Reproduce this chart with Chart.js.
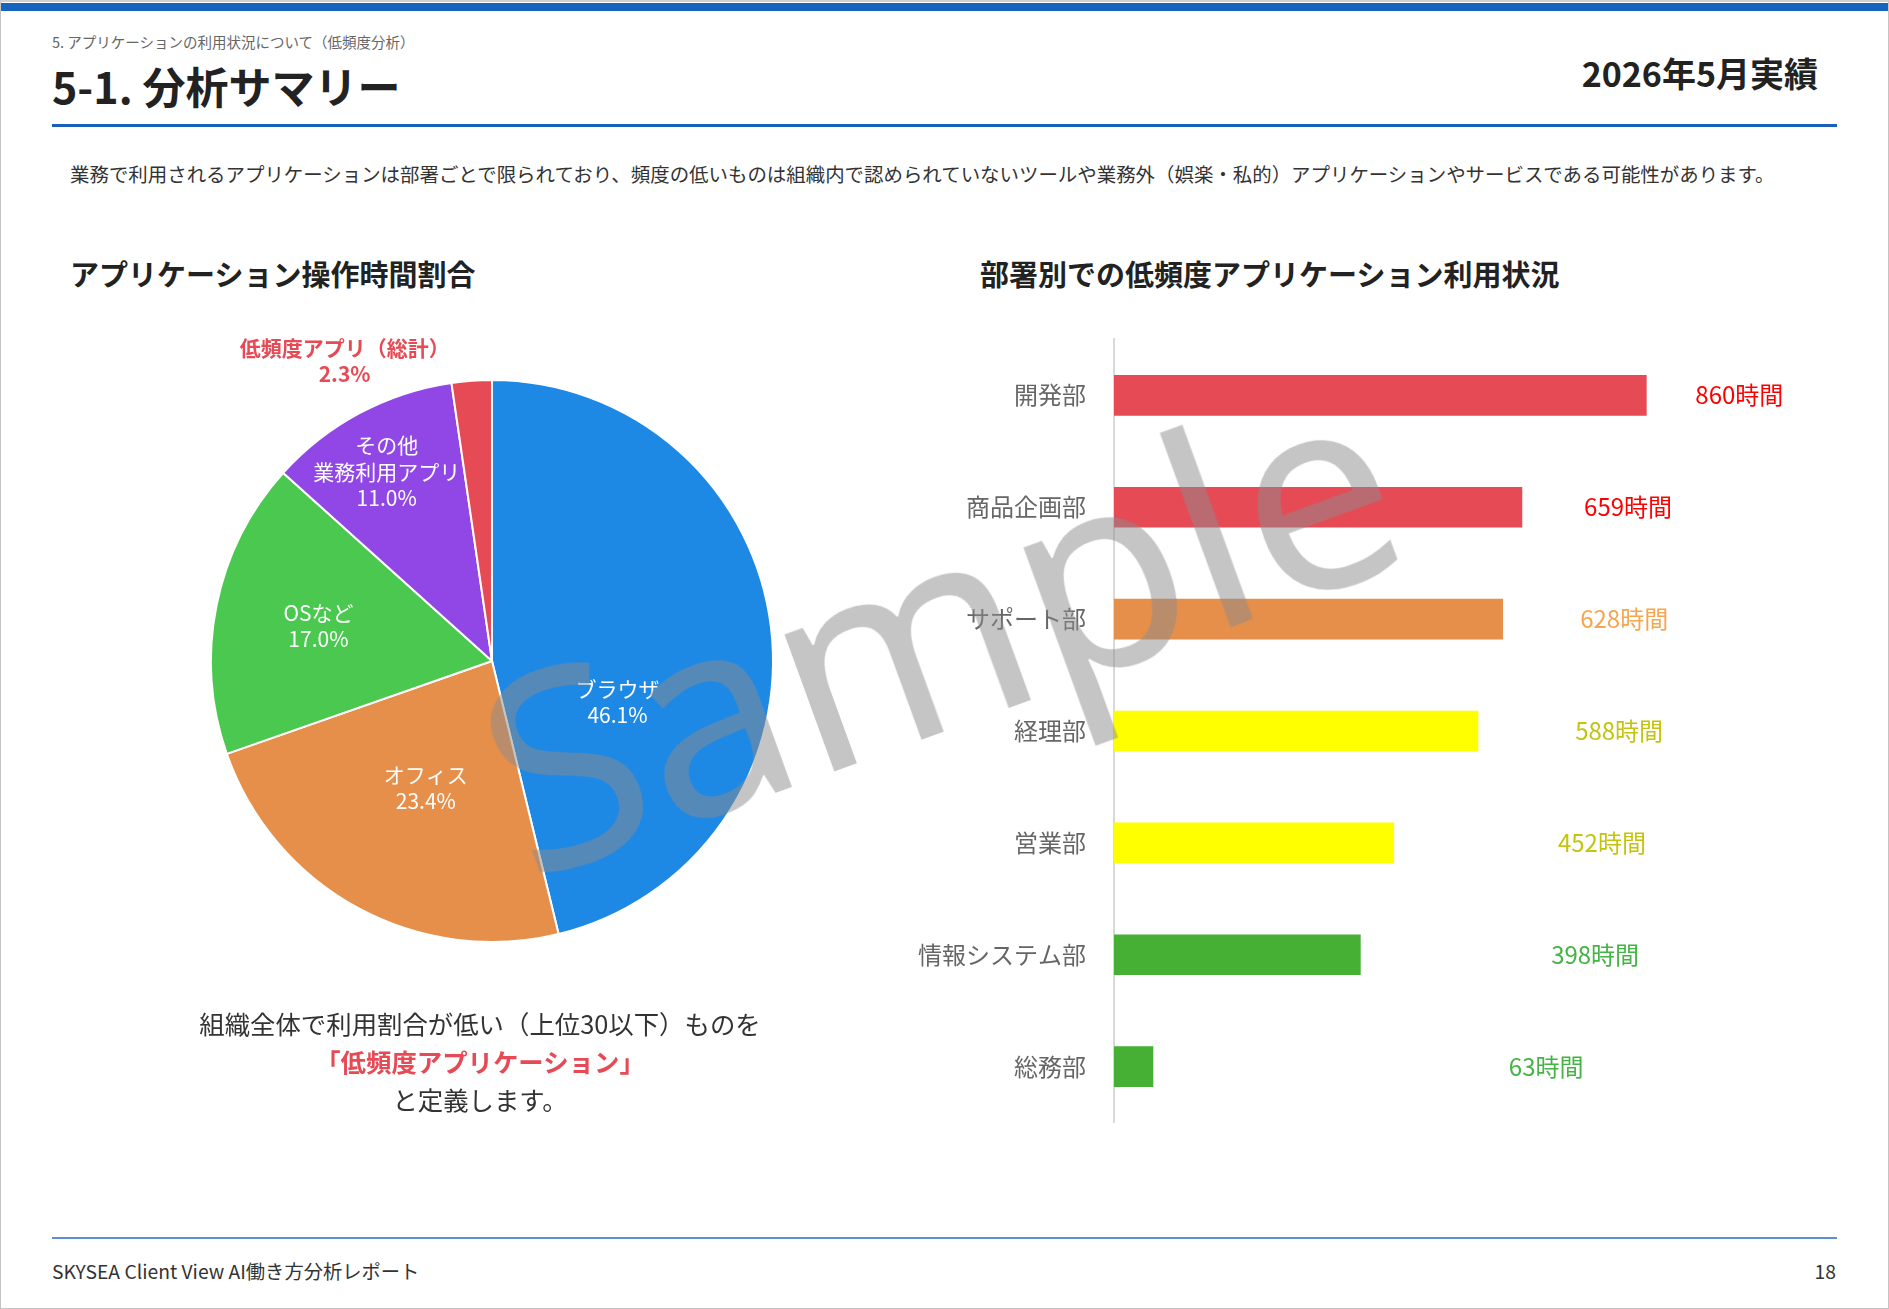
<!DOCTYPE html>
<html lang="ja">
<head>
<meta charset="utf-8">
<title>5-1. 分析サマリー</title>
<script src="https://cdn.jsdelivr.net/npm/chart.js@4.4.0/dist/chart.umd.min.js"></script>
<style>
  html, body { margin: 0; padding: 0; background: #fff; }
  body { font-family: "Noto Sans CJK JP", "Noto Sans", sans-serif; color: #222; }
  .page { position: relative; width: 1889px; height: 1309px; box-sizing: border-box;
          border: 1px solid #c4c4c4; border-top: 2px solid #d0d0d0; overflow: hidden; }
  .topbar { position: absolute; left: 0; right: 0; top: 1px; height: 8px; background: #1565c0; }
  .abs { position: absolute; white-space: nowrap; }
  .crumb { left: 51px; top: 30px; font-size: 14.5px; line-height: 20px; color: #666; }
  .title { left: 51px; top: 58px; font-size: 43px; line-height: 50px; font-weight: 700; color: #222; }
  .month { right: 70px; top: 51px; font-size: 34px; line-height: 40px; font-weight: 700; color: #222; }
  .rule { left: 51px; top: 122px; width: 1785px; height: 3px; background: #1a5fb8; }
  .desc { left: 69px; top: 159px; font-size: 19.45px; line-height: 26px; color: #333; }
  .sec { top: 253px; font-size: 29px; line-height: 36px; font-weight: 700; color: #222; }
  .note { left: 179px; width: 600px; top: 1002px; text-align: center; font-size: 25.4px; line-height: 38px; color: #333; }
  .note b { color: #e64a55; font-weight: 700; }
  .foot-rule { left: 51px; top: 1235px; width: 1785px; height: 2px; background: #5b8fd6; }
  .foot { top: 1256px; font-size: 19.3px; line-height: 26px; color: #333; }
  .box { position: absolute; }
  .stamp { position: absolute; left: 937px; top: 620px; transform: translate(-50%, -50%) rotate(-20deg);
           font-family: "Noto Sans", "Open Sans", sans-serif; font-size: 272px; line-height: 1;
           color: rgba(140, 140, 140, 0.5); pointer-events: none; white-space: nowrap; }
</style>
</head>
<body>
<div class="page">
  <div class="topbar"></div>
  <div class="abs crumb">5. アプリケーションの利用状況について（低頻度分析）</div>
  <div class="abs title">5-1. 分析サマリー</div>
  <div class="abs month">2026年5月実績</div>
  <div class="abs rule"></div>
  <div class="abs desc">業務で利用されるアプリケーションは部署ごとで限られており、頻度の低いものは組織内で認められていないツールや業務外（娯楽・私的）アプリケーションやサービスである可能性があります。</div>

  <div class="abs sec" style="left:69px">アプリケーション操作時間割合</div>
  <div class="abs sec" style="left:979px">部署別での低頻度アプリケーション利用状況</div>

  <div class="box" style="left:141px; top:309px; width:700px; height:700px"><canvas id="pie"></canvas></div>
  <div class="box" style="left:880px; top:295px; width:932px; height:868px"><canvas id="bars"></canvas></div>

  <div class="abs note">組織全体で利用割合が低い（上位30以下）ものを<br><b>「低頻度アプリケーション」</b><br>と定義します。</div>

  <div class="abs foot-rule"></div>
  <div class="abs foot" style="left:51px">SKYSEA Client View AI働き方分析レポート</div>
  <div class="abs foot" style="right:52px">18</div>

  <div class="stamp">Sample</div>
</div>

<script>
// ---- pie: share of application operating time (%)
const appNames = ["ブラウザ", "オフィス", "OSなど", "その他\n業務利用アプリ", "低頻度アプリ（総計）"];
const appShare = [46.1, 23.4, 17.0, 11.0, 2.3];
const appColors = ["#1e88e5", "#e68f4a", "#4ac84f", "#9147e6", "#e64a55"];

// ---- bars: low-frequency app hours by department
const depts = ["開発部", "商品企画部", "サポート部", "経理部", "営業部", "情報システム部", "総務部"];
const deptHours = [860, 659, 628, 588, 452, 398, 63];
const deptColors = ["#e64a55", "#e64a55", "#e68f4a", "#ffff00", "#ffff00", "#46b035", "#46b035"];
const hourColors = ["#ff0000", "#ff0000", "#f8a54e", "#c4c40e", "#c4c40e", "#44b444", "#44b444"];

Chart.defaults.font.family = "'Noto Sans CJK JP', 'Noto Sans', sans-serif";
Chart.defaults.animation = false;

// labels inside/outside each slice: [fraction of radius, angle shift in degrees]
const sliceLabels = {
  id: "sliceLabels",
  afterDatasetsDraw(chart, args, opts) {
    const { ctx } = chart;
    const arcs = chart.getDatasetMeta(0).data;
    ctx.save();
    ctx.textAlign = "center";
    ctx.textBaseline = "middle";
    arcs.forEach((arc, i) => {
      const [f, shift] = opts.place[i];
      const mid = (arc.startAngle + arc.endAngle) / 2 + shift * Math.PI / 180;
      const cx = arc.x + Math.cos(mid) * arc.outerRadius * f;
      const cy = arc.y + Math.sin(mid) * arc.outerRadius * f;
      const outside = f > 1;
      const lines = appNames[i].split("\n").concat(appShare[i].toFixed(1) + "%");
      ctx.font = (outside ? "700 " : "400 ") + "21px 'Noto Sans CJK JP'";
      ctx.fillStyle = outside ? appColors[i] : "#ffffff";
      const lh = 26.5;
      lines.forEach((t, k) => ctx.fillText(t, cx, cy + (k - (lines.length - 1) / 2) * lh));
    });
    ctx.restore();
  }
};

new Chart(document.getElementById("pie"), {
  type: "pie",
  data: {
    labels: appNames,
    datasets: [{ data: appShare, backgroundColor: appColors, borderColor: "#ffffff",
                 borderWidth: 2, hoverBorderWidth: 2, hoverOffset: 0 }]
  },
  options: {
    responsive: true, maintainAspectRatio: false,
    layout: { padding: 68 },
    events: [],
    plugins: {
      legend: { display: false }, tooltip: { enabled: false },
      sliceLabels: { place: [[0.47, 25], [0.51, -1], [0.63, 0], [0.77, -1], [1.19, -22]] }
    }
  },
  plugins: [sliceLabels]
});

// hour labels: a loose column right of the bars, never closer than `gap` to a bar end
const hourLabels = {
  id: "hourLabels",
  afterDatasetsDraw(chart) {
    const { ctx, scales: { x } } = chart;
    const bars = chart.getDatasetMeta(0).data;
    const gap = 49;
    ctx.save();
    ctx.font = "400 24px 'Noto Sans CJK JP'";
    ctx.textAlign = "left";
    ctx.textBaseline = "middle";
    bars.forEach((bar, i) => {
      const v = deptHours[i];
      const col = x.getPixelForValue(625 + 0.204 * v);
      ctx.fillStyle = hourColors[i];
      ctx.fillText(v + "時間", Math.max(bar.x + gap, col), bar.y);
    });
    ctx.restore();
  }
};

new Chart(document.getElementById("bars"), {
  type: "bar",
  data: {
    labels: depts,
    datasets: [{ data: deptHours, backgroundColor: deptColors, borderWidth: 0, barThickness: 40 }]
  },
  options: {
    indexAxis: "y",
    responsive: true, maintainAspectRatio: false,
    layout: { padding: { top: 20, bottom: 20, left: 0, right: 80 } },
    events: [],
    plugins: { legend: { display: false }, tooltip: { enabled: false } },
    scales: {
      x: { display: false, min: 0, max: 1000 },
      y: {
        grid: { display: false, drawTicks: false },
        border: { display: true, color: "#d9d9d9", width: 2 },
        ticks: { color: "#666", font: { size: 24 }, padding: 28 },
        afterFit(s) { s.width = 233; }
      }
    }
  },
  plugins: [hourLabels]
});
</script>
</body>
</html>
